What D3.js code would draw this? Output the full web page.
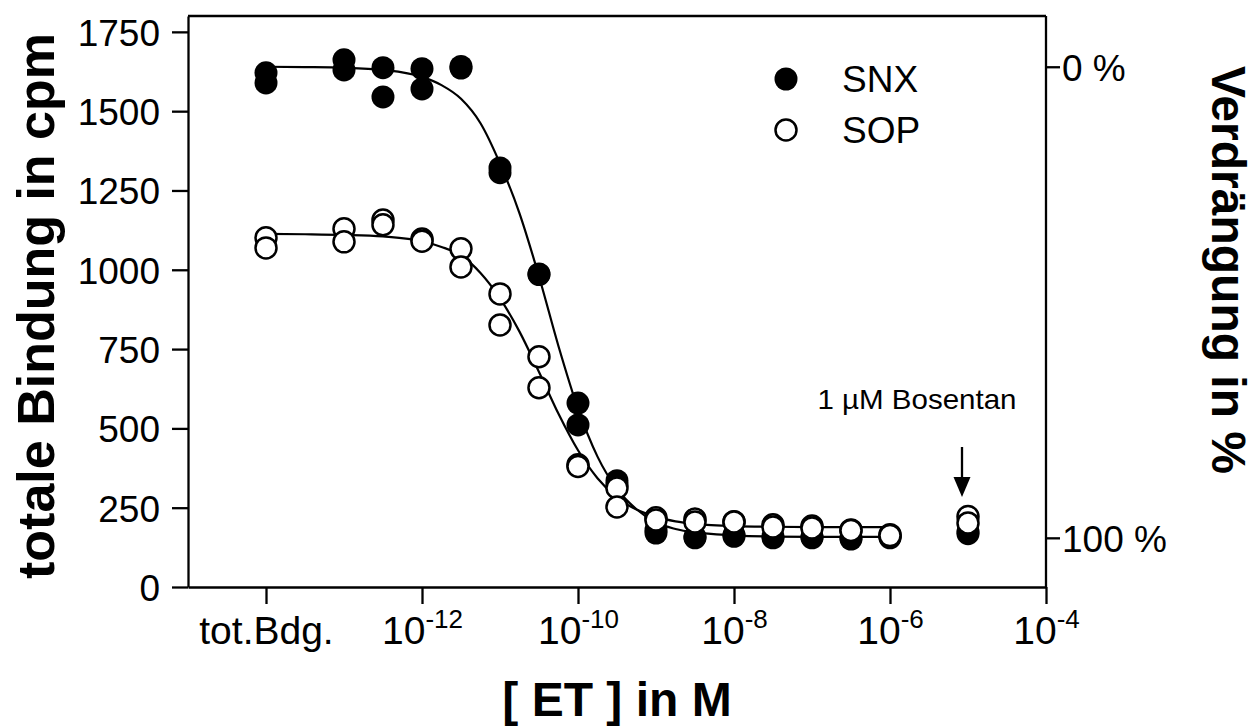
<!DOCTYPE html>
<html><head><meta charset="utf-8">
<script src="https://cdn.jsdelivr.net/npm/d3@7"></script>
<style>
body{margin:0;background:#fff}
svg{display:block}
text{font-family:"Liberation Sans",Arial,Helvetica,sans-serif;fill:#000}
</style>
</head><body>
<svg id="chart" width="1257" height="727"></svg>
<script>
// ---------- data ----------
// concentration in M ; the "tot.Bdg." column is drawn at the 1e-14 position, Bosentan at 1e-5
const snxConc = [1e-14,1e-14, 1e-13,1e-13, 3.16e-13,3.16e-13, 1e-12,1e-12, 3.16e-12,3.16e-12,
                 1e-11,1e-11, 3.16e-11,3.16e-11, 1e-10,1e-10, 3.16e-10,3.16e-10, 1e-9,1e-9,
                 3.16e-9,3.16e-9, 1e-8,1e-8, 3.16e-8,3.16e-8, 1e-7,1e-7, 3.16e-7,3.16e-7, 1e-6,1e-6, 1e-5,1e-5];
const snxCpm  = [1621,1589, 1662,1630, 1637,1545, 1634,1570, 1641,1636,
                 1321,1306, 987,985, 580,511, 335,322, 180,170,
                 158,155, 164,160, 159,155, 158,155, 151,155, 158,155, 174,168];
const sopConc = snxConc;
const sopCpm  = [1101,1069, 1129,1088, 1157,1142, 1097,1090, 1066,1009,
                 924,826, 726,628, 385,380, 312,252, 218,211,
                 214,205, 206,205, 196,189, 192,186, 180,178, 165,162, 222,202];
// fitted curves (log10 of concentration -> cpm)
const fitLogConc = [-14,-13.5,-13,-12.5,-12,-11.75,-11.5,-11.25,-11,-10.75,-10.5,-10.25,-10,-9.75,-9.5,-9.25,-9,-8.75,-8.5,-8,-7.5,-7,-6.5,-6];
const snxFit = [1640,1639,1637,1630,1608,1582,1539,1462,1335,1178,979,759,562,411,309,245,203,183,172,163,159,158,158,158];
const sopFit = [1113,1112,1110,1105,1090,1072,1045,990,910,805,678,546,431,343,282,244,221,207,199,192,190,189,189,189];
// ticks
const yTicks = [0,250,500,750,1000,1250,1500,1750];
const xTickValues = [1e-14,1e-12,1e-10,1e-8,1e-6,1e-4];
const xTickExponents = [null,-12,-10,-8,-6,-4];
const xTickFirstLabel = "tot.Bdg.";
const pctTicks = [0,100];
const pctCpm = [1640,155];   // cpm levels equal to 0 % and 100 %
const seriesNames = ["SNX","SOP"];

// ---------- layout ----------
const svg = d3.select("#chart");
const L = 188, R = 1046, T = 16, B = 587;
const x = d3.scaleLog().domain([1e-15,1e-4]).range([L,R]);
const y = d3.scaleLinear().domain([0,1800]).range([B,T]);
const yPct = d3.scaleLinear().domain(pctTicks).range([y(pctCpm[0]), y(pctCpm[1])]);
const SW = 2.3;

// frame top and right
svg.append("line").attr("x1",L).attr("x2",R).attr("y1",T).attr("y2",T).attr("stroke","#000").attr("stroke-width",SW);
svg.append("line").attr("x1",R).attr("x2",R).attr("y1",T).attr("y2",B).attr("stroke","#000").attr("stroke-width",SW);

// left axis
const gy = svg.append("g").attr("transform",`translate(${L},0)`)
  .call(d3.axisLeft(y).tickValues(yTicks).tickSize(16).tickSizeOuter(0).tickPadding(12).tickFormat(d3.format("d")));
gy.selectAll("path,line").attr("stroke","#000").attr("stroke-width",SW);
gy.selectAll("text").attr("font-size",37).attr("font-family",null).attr("dy","0.36em");

// bottom axis
const gx = svg.append("g").attr("transform",`translate(0,${B})`)
  .call(d3.axisBottom(x).tickValues(xTickValues).tickSize(17).tickSizeOuter(0));
gx.selectAll("path,line").attr("stroke","#000").attr("stroke-width",SW);
gx.selectAll(".tick text").each(function(d,i){
  const t = d3.select(this);
  t.text(null).attr("y",57).attr("dy",null).attr("font-size",39).attr("font-family",null);
  if (xTickExponents[i] === null) { t.text(xTickFirstLabel); }
  else {
    t.append("tspan").text("10");
    t.append("tspan").attr("dy",-16).attr("font-size",26).text("-" + Math.abs(xTickExponents[i]));
  }
});

// right axis
const gr = svg.append("g").attr("transform",`translate(${R},0)`)
  .call(d3.axisRight(yPct).tickValues(pctTicks).tickSize(14).tickSizeOuter(0).tickPadding(2).tickFormat(d => d + " %"));
gr.select(".domain").remove();
gr.selectAll("line").attr("stroke","#000").attr("stroke-width",SW);
gr.selectAll("text").attr("font-size",37).attr("font-family",null).attr("dy","0.36em");

// axis titles
svg.append("text").attr("transform","translate(54,306) rotate(-90)").attr("text-anchor","middle")
  .attr("font-size",52).attr("font-weight","bold").text("totale Bindung in cpm");
svg.append("text").attr("transform","translate(1212,270) rotate(90)").attr("text-anchor","middle")
  .attr("font-size",48).attr("font-weight","bold").text("Verdrängung in %");
svg.append("text").attr("x",617).attr("y",716).attr("text-anchor","middle")
  .attr("font-size",48).attr("font-weight","bold").text("[ ET ] in M");

// fitted curves
const line = d3.line().x(d => x(Math.pow(10,d[0]))).y(d => y(d[1])).curve(d3.curveMonotoneX);
[snxFit, sopFit].forEach(f => {
  svg.append("path").datum(fitLogConc.map((c,i) => [c, f[i]]))
    .attr("d", line).attr("fill","none").attr("stroke","#000").attr("stroke-width",2.2);
});

// points
const RAD = 10.5;
svg.append("g").selectAll("circle").data(snxConc.map((c,i)=>[c,snxCpm[i]])).join("circle")
  .attr("cx",d=>x(d[0])).attr("cy",d=>y(d[1])).attr("r",RAD+1).attr("fill","#000");
svg.append("g").selectAll("circle").data(sopConc.map((c,i)=>[c,sopCpm[i]])).join("circle")
  .attr("cx",d=>x(d[0])).attr("cy",d=>y(d[1])).attr("r",RAD).attr("fill","#fff").attr("stroke","#000").attr("stroke-width",2.5);

// legend
const legY = [79,130];
seriesNames.forEach((n,i) => {
  svg.append("circle").attr("cx",786).attr("cy",legY[i]).attr("r",i===0?RAD+1:RAD)
    .attr("fill", i===0 ? "#000" : "#fff").attr("stroke","#000").attr("stroke-width", i===0?0:2.5);
  svg.append("text").attr("x",842).attr("y",legY[i]).attr("dy","0.36em").attr("font-size",37).text(n);
});

// Bosentan annotation
const ax = x(1e-5) - 6;
svg.append("text").attr("x",917).attr("y",409).attr("text-anchor","middle").attr("font-size",28)
  .attr("textLength",199).attr("lengthAdjust","spacingAndGlyphs").text("1 µM Bosentan");
svg.append("line").attr("x1",ax).attr("x2",ax).attr("y1",447).attr("y2",479).attr("stroke","#000").attr("stroke-width",2.3);
svg.append("path").attr("d",`M${ax-8.5},477 L${ax+8.5},477 L${ax},497 Z`).attr("fill","#000");
</script>
</body></html>
